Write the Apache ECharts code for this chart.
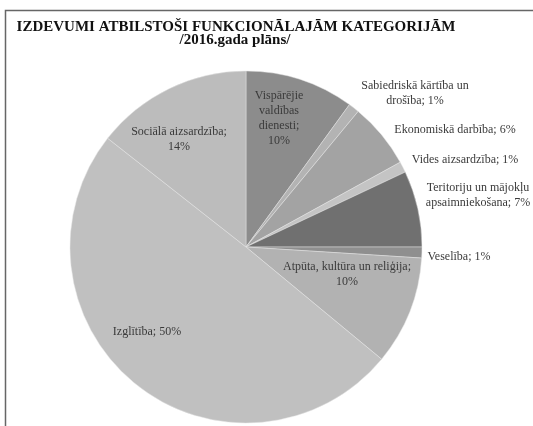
<!DOCTYPE html>
<html>
<head>
<meta charset="utf-8">
<script src="https://cdn.jsdelivr.net/npm/echarts@6/dist/echarts.min.js"></script>
<style>html,body{margin:0;padding:0;background:#fff}#c{width:533px;height:426px}</style>
</head>
<body>
<div id="c"></div>
<script>
// ---- data ----
const categories = [
  'Vispārējie valdības dienesti',
  'Sabiedriskā kārtība un drošība',
  'Ekonomiskā darbība',
  'Vides aizsardzība',
  'Teritoriju un mājokļu apsaimniekošana',
  'Veselība',
  'Atpūta, kultūra un reliģija',
  'Izglītība',
  'Sociālā aizsardzība'
];
const values = [10, 1, 6, 1, 7, 1, 10, 49.6, 14.4];
const titleLines = ['IZDEVUMI ATBILSTOŠI FUNKCIONĀLAJĀM KATEGORIJĀM', '/2016.gada plāns/'];

// ---- styling / layout ----
const colors = ['#8c8c8c','#b3b3b3','#a3a3a3','#c4c4c4','#707070','#8f8f8f','#b2b2b2','#c0c0c0','#bcbcbc'];
const labelWrap = [
  'Vispārējie\nvaldības\ndienesti;\n{p}',
  'Sabiedriskā kārtība un\ndrošība; {p}',
  'Ekonomiskā darbība; {p}',
  'Vides aizsardzība; {p}',
  'Teritoriju un mājokļu\napsaimniekošana; {p}',
  'Veselība; {p}',
  'Atpūta, kultūra un reliģija;\n{p}',
  'Izglītība; {p}',
  'Sociālā aizsardzība;\n{p}'
];
const labelPos = [[279,118],[415,93],[455,130],[465,160],[478,195],[459,257],[347,274],[147,332],[179,139]];

const chart = echarts.init(document.getElementById('c'), null, {renderer:'canvas'});
const font = '"Liberation Serif", "DejaVu Serif", serif';
chart.setOption({
  animation: false,
  backgroundColor: '#fff',
  title: [
    {text: titleLines[0], left: 231, top: 15, textAlign: 'center',
     textStyle: {fontFamily: font, fontSize: 15, fontWeight: 'bold', color: '#111'}},
    {text: titleLines[1], left: 230, top: 28, textAlign: 'center',
     textStyle: {fontFamily: font, fontSize: 15, fontWeight: 'bold', color: '#111'}}
  ],
  graphic: [
    {type: 'polyline', shape: {points: [[5.5, 426], [5.5, 10.5], [533, 10.5]]},
     style: {stroke: '#666', lineWidth: 1.5, fill: null}}
  ],
  series: [{
    type: 'pie',
    center: [246, 247],
    radius: 176,
    startAngle: 90,
    clockwise: true,
    avoidLabelOverlap: false,
    data: categories.map((n, i) => ({name: n, value: values[i], itemStyle: {color: colors[i]}})),
    itemStyle: {borderColor: 'rgba(230,230,230,0.6)', borderWidth: 0.8},
    label: {
      show: true,
      position: 'inside',
      fontFamily: font,
      fontSize: 12,
      color: '#3a3a3a',
      lineHeight: 15,
      align: 'center',
      formatter: p => labelWrap[p.dataIndex].replace('{p}', Math.round(p.percent) + '%')
    },
    labelLine: {show: false},
    labelLayout: p => ({x: labelPos[p.dataIndex][0], y: labelPos[p.dataIndex][1], align: 'center', verticalAlign: 'middle'}),
    emphasis: {disabled: true}
  }]
});
</script>
</body>
</html>
